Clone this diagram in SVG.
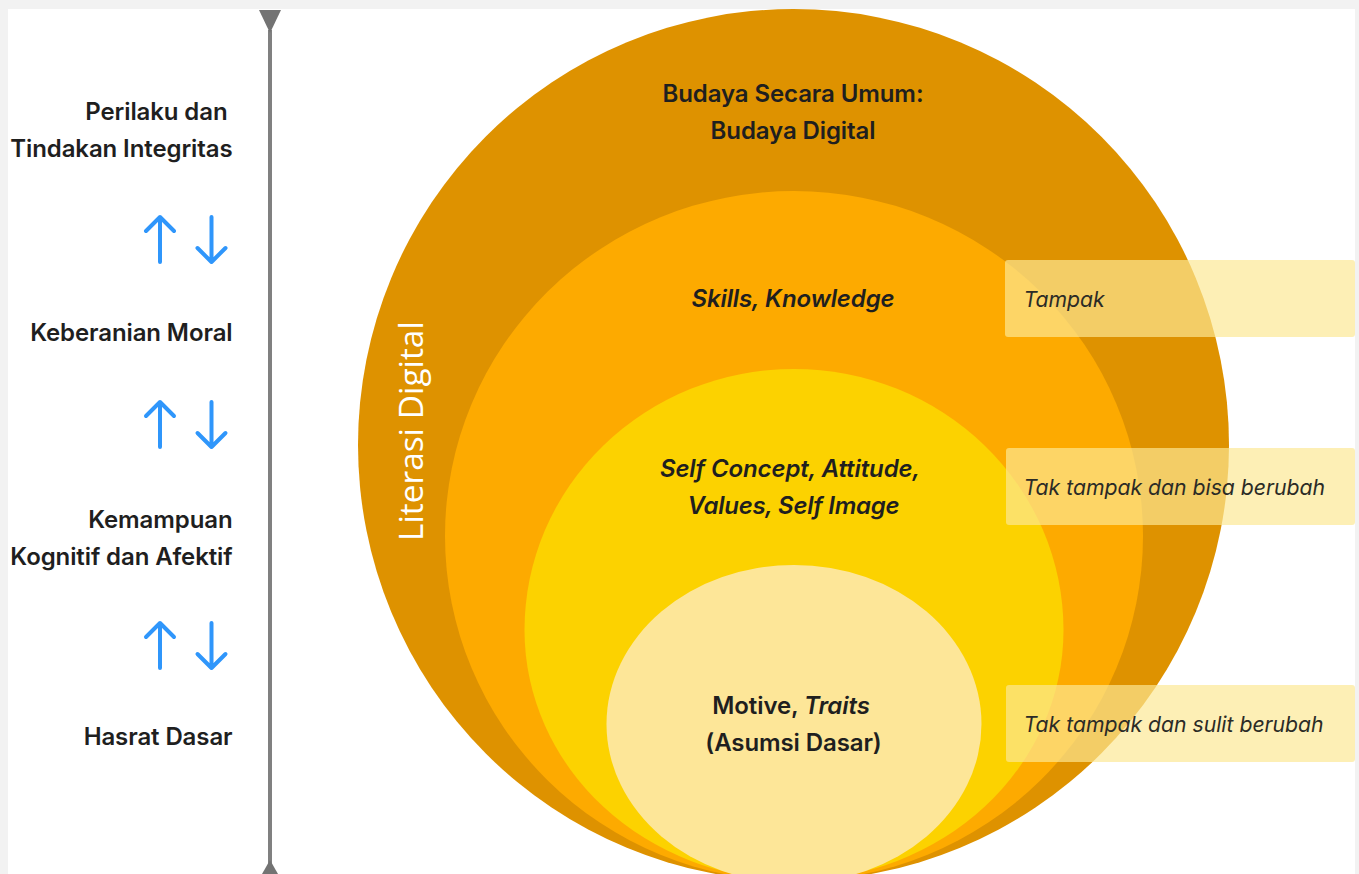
<svg xmlns="http://www.w3.org/2000/svg" width="1359" height="874" viewBox="0 0 1359 874">
<style>
text{font-family:Inter,"Noto Sans","Liberation Sans",sans-serif;fill:#1f1f1f}
.b{font-size:24px;font-weight:600;letter-spacing:-.1px}
.r{text-anchor:end}
.m{text-anchor:middle}
.i{font-style:italic}
.t{font-size:21.2px;font-style:italic;font-weight:400;fill:#2b2b26}
.box{fill:#fce894;fill-opacity:.69}
.ar{fill:none;stroke:#2f96fb;stroke-width:4;stroke-linecap:round;stroke-linejoin:round}
</style>
<defs>
<path id="up" class="ar" d="M0 0V-45M-14 -31L0 -45L14 -31"/>
<path id="dn" class="ar" d="M0 -45V0M-14 -14L0 0L14 -14"/>
</defs>
<rect width="1359" height="874" fill="#f2f2f2"/>
<rect x="8" y="9" width="1347" height="865" fill="#fff"/>
<g id="circle-budaya"><ellipse cx="793.5" cy="445" rx="435.5" ry="436" fill="#de9200"/></g>
<g id="circle-skills"><ellipse cx="794" cy="536" rx="349" ry="345" fill="#fdaa00"/></g>
<g id="circle-self"><path d="M524.5 630A269.5 261 0 0 1 1063.5 630A269.5 250 0 0 1 524.5 630Z" fill="#fcd200"/></g>
<g id="circle-motive"><ellipse cx="794" cy="724" rx="187.5" ry="159" fill="#fde698"/></g>
<g id="axis">
<rect x="268" y="30" width="4" height="834" fill="#808080"/>
<path d="M259 10H281L270 33Z" fill="#737373"/>
<path d="M262 874L270 860L278 874Z" fill="#737373"/>
</g>
<g id="connectors">
<use href="#up" x="160" y="262"/><use href="#dn" x="211.5" y="262"/>
<use href="#up" x="160" y="447"/><use href="#dn" x="211.5" y="447"/>
<use href="#up" x="160" y="668"/><use href="#dn" x="211.5" y="668"/>
</g>
<g id="label-perilaku"><text class="b r" x="227.5" y="120">Perilaku dan</text><text class="b r" x="232.5" y="157">Tindakan Integritas</text></g>
<g id="label-keberanian"><text class="b r" x="232.5" y="341">Keberanian Moral</text></g>
<g id="label-kemampuan"><text class="b r" x="232.5" y="528">Kemampuan</text><text class="b r" x="232.5" y="565">Kognitif dan Afektif</text></g>
<g id="label-hasrat"><text class="b r" x="232.5" y="745">Hasrat Dasar</text></g>
<g id="label-literasi"><text transform="translate(423 541) rotate(-90)" style="font-family:'Open Sans',sans-serif;font-size:33.4px;font-weight:400;fill:#fff">Literasi Digital</text></g>
<g id="label-budaya"><text class="b m" x="793" y="102">Budaya Secara Umum:</text><text class="b m" x="793" y="139">Budaya Digital</text></g>
<g id="label-skills"><text class="b m i" x="793" y="307">Skills, Knowledge</text></g>
<g id="label-self"><text class="b m i" x="790" y="477">Self Concept, Attitude,</text><text class="b m i" x="793.5" y="514" style="letter-spacing:-.25px">Values, Self Image</text></g>
<g id="label-motive"><text class="b m" x="791" y="714">Motive, <tspan class="i">Traits</tspan></text><text class="b m" x="793.5" y="751">(Asumsi Dasar)</text></g>
<g id="tag-tampak"><rect class="box" x="1005" y="260" width="350" height="77" rx="3"/><text class="t" x="1023.5" y="307">Tampak</text></g>
<g id="tag-bisa"><rect class="box" x="1006" y="448" width="349" height="77" rx="3"/><text class="t" x="1023.5" y="495">Tak tampak dan bisa berubah</text></g>
<g id="tag-sulit"><rect class="box" x="1006" y="685" width="349" height="77" rx="3"/><text class="t" x="1023.5" y="732">Tak tampak dan sulit berubah</text></g>
</svg>
